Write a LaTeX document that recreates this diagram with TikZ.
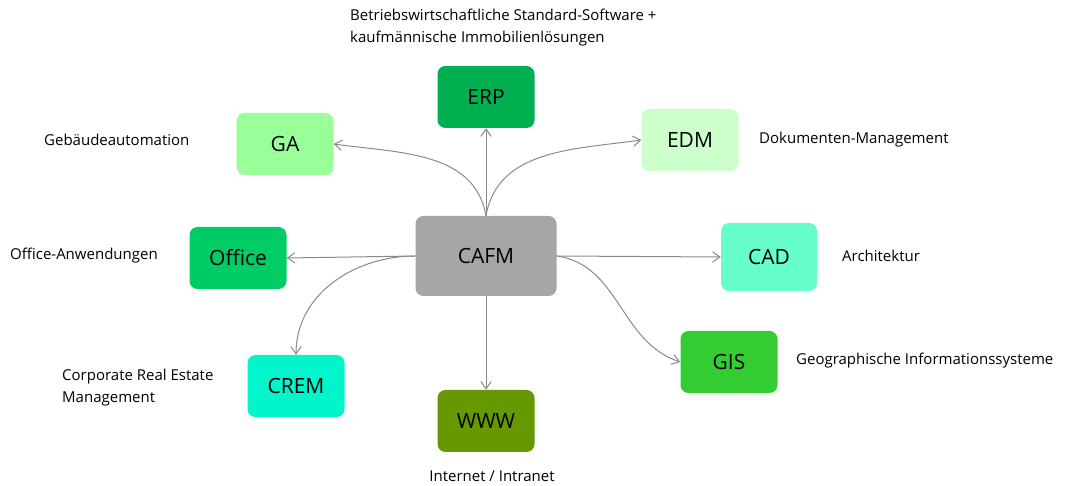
\documentclass[tikz,border=0pt]{standalone}
\usepackage{fontspec}
\setmainfont{Open Sans}
\usepackage{tikz}
\usepackage{xcolor}
\usetikzlibrary{arrows.meta,positioning}
\definecolor{hubgray}{HTML}{A6A6A6}
\definecolor{linkgray}{HTML}{8A8A8A}
\definecolor{erpgreen}{HTML}{00B050}
\definecolor{gagreen}{HTML}{99FF99}
\definecolor{edmgreen}{HTML}{CCFFCC}
\definecolor{officegreen}{HTML}{00CC66}
\definecolor{cadmint}{HTML}{66FFCC}
\definecolor{cremaqua}{HTML}{00F5CC}
\definecolor{wwwolive}{HTML}{669900}
\definecolor{gisgreen}{HTML}{33CC33}
\tikzset{
  sysbox/.style={rounded corners=8pt,minimum width=97pt,minimum height=62pt,
                 inner sep=2pt,align=center,font=\fontsize{21}{24}\selectfont},
  hubbox/.style={sysbox,fill=hubgray,minimum width=141pt,minimum height=80pt},
  sidenote/.style={font=\fontsize{15}{22}\selectfont,align=left,inner sep=0pt},
  linkarr/.style={-{Straight Barb[length=2.6mm,width=3.6mm]},line width=1pt,color=linkgray}
}

\begin{document}
\begin{tikzpicture}[x=1pt,y=1pt]
  \useasboundingbox (0,0) rectangle (1070,486);

  % centre and the systems round it
  \node[hubbox] (cafm) at (486,230) {CAFM};
  \node[sysbox,fill=erpgreen] (erp) at (486,389) {ERP};
  \node[sysbox,fill=gagreen] (ga) at (285,342) {GA};
  \node[sysbox,fill=edmgreen] (edm) at (690,346) {EDM};
  \node[sysbox,fill=officegreen] (office) at (238,228) {Office};
  \node[sysbox,fill=cadmint,minimum width=96pt,minimum height=68pt] (cad) at (769,229) {CAD};
  \node[sysbox,fill=cremaqua] (crem) at (296,100) {CREM};
  \node[sysbox,fill=wwwolive] (www) at (486,65) {WWW};
  \node[sysbox,fill=gisgreen] (gis) at (729,124) {GIS};

  % descriptions
  \node[sidenote,anchor=west] (erpnote) at (350,458)
    {Betriebswirtschaftliche Standard-Software +\\kaufmännische Immobilienlösungen};
  \node[sidenote,anchor=west] (ganote) at (44,346) {Gebäudeautomation};
  \node[sidenote,anchor=west] (edmnote) at (759,346) {Dokumenten-Management};
  \node[sidenote,anchor=west] (officenote) at (10,230) {Office-Anwendungen};
  \node[sidenote,anchor=west] (cadnote) at (842,230) {Architektur};
  \node[sidenote,anchor=west] (cremnote) at (62,98) {Corporate Real Estate\\Management};
  \node[sidenote,anchor=west] (gisnote) at (796,125) {Geographische Informationssysteme};
  \node[sidenote] (wwwnote) at (492,10) {Internet / Intranet};

  % links
  \draw[linkarr] (cafm.north) -- (erp.south);
  \draw[linkarr] (cafm.north) to[out=100,in=-8] (ga.east);
  \draw[linkarr] (cafm.north) to[out=80,in=188] (edm.west);
  \draw[linkarr] (cafm.west) -- (office.east);
  \draw[linkarr] (cafm.east) -- (cad.west);
  \draw[linkarr] (cafm.south) -- (www.north);
  \draw[linkarr] (cafm.west) to[out=180,in=90] (crem.north);
  \draw[linkarr] (cafm.east) to[out=-8,in=162] (gis.west);
\end{tikzpicture}
\end{document}
